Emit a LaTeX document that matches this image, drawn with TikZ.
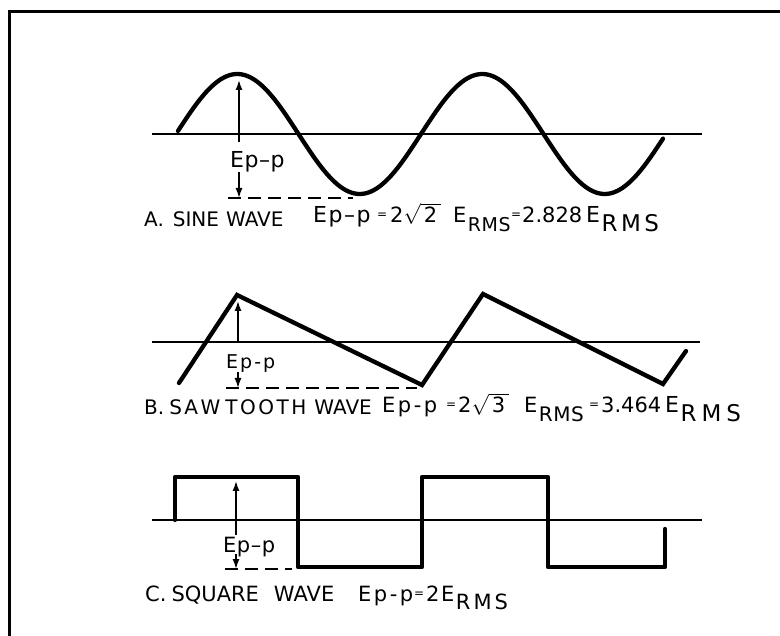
\documentclass[tikz,border=0pt]{standalone}
\usepackage{fontspec}
\setmainfont{DejaVu Sans}
\usetikzlibrary{arrows.meta}
\newcommand{\fs}[1]{\fontsize{#1}{#1}\selectfont}
\newcommand{\Ep}[2]{E\kern#2 p\kern#2 #1\kern#2 p}
\newcommand{\rms}[1]{R\kern#1 M\kern#1 S}
\newcommand{\Erms}[2]{E\kern1.5pt\raisebox{-9pt}{#1\rms{#2}}}
\newcommand{\eqs}{{\fs{12}=}}
\newcommand{\rt}[1]{$\sqrt{\mbox{\kern3pt #1\kern4pt}}$}
\begin{document}
\begin{tikzpicture}[x=1pt,y=-1pt,
  wave/.style={line width=4.3pt, line cap=round, line join=round},
  axis/.style={line width=1.6pt},
  arr/.style={line width=1.5pt, -{Latex[length=10pt,width=7pt]}},
  dashline/.style={line width=1.5pt, dash pattern=on 13pt off 7pt},
  frame/.style={line width=2.4pt},
  txt/.style={inner sep=0pt, anchor=base west},
  eqtxt/.style={inner sep=0pt, anchor=base west, yshift=4pt}]
\useasboundingbox (0,0) rectangle (780,636);
\draw[frame] (9.3,640) -- (9.3,11.5) -- (784,11.5);

% ---- A: sine
\draw[axis] (152,134) -- (702,134);
\draw[wave] plot[domain=178:663, samples=160, smooth] (\x, {134-60*sin(((\x-176)/245)*360)});
\coordinate (Atop) at (239,80);
\coordinate (Aup) at (239,142);
\coordinate (Alo) at (239,172);
\coordinate (Abot) at (239,198);
\coordinate (Adl) at (228,198);
\coordinate (Adr) at (353,198);
\draw[arr] (Aup) -- (Atop);
\draw[arr] (Alo) -- (Abot);
\draw[dashline] (Adl) -- (Adr);
\node[txt, font=\fs{22}] (Albl) at (230,168) {\Ep{–}{0.5pt}};
\node[txt, font=\fs{20}] (Acap) at (144,227) {A.\hspace{9pt}SINE\hspace{7pt}WAVE};
\node[txt, font=\fs{22}] (Af1) at (313,223) {\Ep{–}{1.5pt}};
\node[eqtxt] (Af2) at (377,223) {\eqs};
\node[txt, font=\fs{21}] (Af3) at (390,223) {2\rt{2}};
\node[txt, font=\fs{21}] (Af4) at (453,223) {\Erms{\fs{19}}{0.5pt}};
\node[eqtxt] (Af5) at (511,223) {\eqs};
\node[txt, font=\fs{21}] (Af6) at (522,223) {2.828};
\node[txt, font=\fs{22}] (Af7) at (586,223) {\Erms{\fs{23}}{3.5pt}};

% ---- B: sawtooth
\draw[axis] (152,342) -- (700,342);
\draw[wave, line join=miter] (179,383) -- (237,295) -- (422,385) -- (483,294) -- (663,384) -- (686,351);
\coordinate (Btop) at (238,301);
\coordinate (Bup) at (238,343);
\coordinate (Blo) at (238,372);
\coordinate (Bbot) at (238,388);
\coordinate (Bdl) at (226,388);
\coordinate (Bdr) at (417,388);
\draw[arr] (Bup) -- (Btop);
\draw[arr] (Blo) -- (Bbot);
\draw[dashline] (Bdl) -- (Bdr);
\node[txt, font=\fs{19}] (Blbl) at (226,368.5) {\Ep{-}{2pt}};
\node[txt, font=\fs{20}] (Bcap) at (144,415) {B.\hspace{5pt}S\kern2.5pt A\kern2.5pt W\kern5pt T\kern2.5pt O\kern2.5pt O\kern2.5pt T\kern2.5pt H\hspace{8pt}WAVE};
\node[txt, font=\fs{21}] (Bf1) at (382,413) {\Ep{-}{2.5pt}};
\node[eqtxt] (Bf2) at (446,413) {\eqs};
\node[txt, font=\fs{21}] (Bf3) at (458,413) {2\rt{3}};
\node[txt, font=\fs{21}] (Bf4) at (524,413) {\Erms{\fs{20}}{0.5pt}};
\node[eqtxt] (Bf5) at (589,413) {\eqs};
\node[txt, font=\fs{21}] (Bf6) at (601,413) {3.464};
\node[txt, font=\fs{22}] (Bf7) at (665,413) {\Erms{\fs{23}}{5pt}};

% ---- C: square
\draw[axis] (152,520) -- (702,520);
\draw[wave] (175,520) -- (175,477) -- (298,477) -- (298,567) -- (422,567) -- (422,477) -- (548,477) -- (548,567) -- (665,567) -- (665,529);
\coordinate (Ctop) at (236,481);
\coordinate (Cup) at (236,535);
\coordinate (Clo) at (236,554);
\coordinate (Cbot) at (236,569);
\coordinate (Cdl) at (225,569);
\coordinate (Cdr) at (292,569);
\draw[arr] (Cup) -- (Ctop);
\draw[arr] (Clo) -- (Cbot);
\draw[dashline] (Cdl) -- (Cdr);
\node[txt, font=\fs{21}] (Clbl) at (223,552) {\Ep{–}{0.5pt}};
\node[txt, font=\fs{21}] (Ccap) at (145,601) {C.\hspace{5pt}SQUARE\hspace{15pt}WAVE};
\node[txt, font=\fs{21}] (Cf1) at (358,601) {\Ep{-}{2.5pt}};
\node[eqtxt] (Cf2) at (414,601) {\eqs};
\node[txt, font=\fs{21}] (Cf3) at (426,601) {2};
\node[txt, font=\fs{21}] (Cf4) at (441,601) {\Erms{}{3pt}};
\end{tikzpicture}
\end{document}
